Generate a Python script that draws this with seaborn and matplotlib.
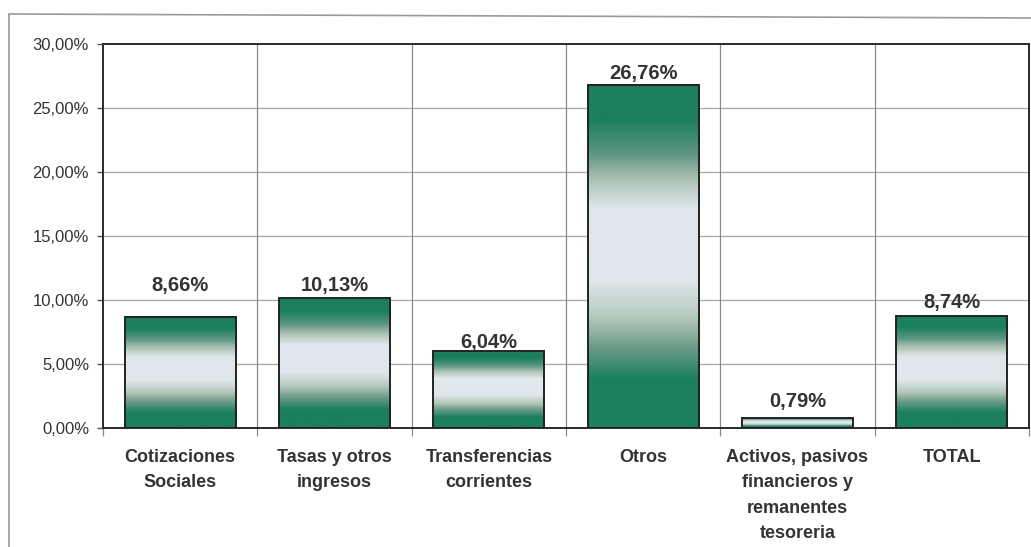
import numpy as np
import matplotlib
matplotlib.use("Agg")
import matplotlib.pyplot as plt
from matplotlib.colors import LinearSegmentedColormap
from matplotlib.lines import Line2D
from matplotlib.ticker import FuncFormatter, MultipleLocator, FixedLocator
import seaborn as sns

# -----------------------
# data
# -----------------------
categories = [
    "Cotizaciones\nSociales",
    "Tasas y otros\ningresos",
    "Transferencias\ncorrientes",
    "Otros",
    "Activos, pasivos\nfinancieros y\nremanentes\ntesoreria",
    "TOTAL",
]
values = [8.66, 10.13, 6.04, 26.76, 0.79, 8.74]
value_labels = ["8,66%", "10,13%", "6,04%", "26,76%", "0,79%", "8,74%"]

# label lift above each bar top (px), as placed in the original
label_lift_px = [32, 13, 8, 12, 16, 14]

DARK = "#1b7f5f"
LIGHT = "#dfe8ec"

sns.set_theme(style="white")
plt.rcParams["font.family"] = ["Liberation Sans", "DejaVu Sans"]

fig = plt.figure(figsize=(10.31, 5.47), dpi=100)
fig.patch.set_facecolor("white")
ax = fig.add_axes([103 / 1031, 1 - 428 / 547, (1029 - 103) / 1031, (428 - 44) / 547])

sns.barplot(x=categories, y=values, ax=ax, color="white", width=0.72,
            edgecolor="#222222", linewidth=1.4, saturation=1)

# gradient fill: dark -> light -> dark, top to bottom of each bar
cmap = LinearSegmentedColormap.from_list(
    "bar_grad",
    [(0.0, DARK), (0.10, DARK), (0.20, "#5f9682"), (0.27, "#a9bfb2"), (0.36, LIGHT),
     (0.57, LIGHT), (0.68, "#b3c8bc"), (0.76, "#6f9d8a"), (0.86, DARK), (1.0, DARK)],
)
grad = np.linspace(0, 1, 256).reshape(-1, 1)
for p in ax.patches:
    x0, y0 = p.get_x(), p.get_y()
    w, h = p.get_width(), p.get_height()
    im = ax.imshow(grad, cmap=cmap, aspect="auto", origin="upper",
                   extent=[x0, x0 + w, y0, y0 + h], zorder=2, interpolation="bilinear")
    im.set_clip_path(p)
    p.set_facecolor("none")
    p.set_zorder(3)

ax.set_xlim(-0.5, len(categories) - 0.5)
ax.set_ylim(0, 30)

# value labels
px_to_pt = 72 / 100
for i, (v, txt) in enumerate(zip(values, value_labels)):
    ax.annotate(txt, (i, v), xytext=(0, label_lift_px[i] * px_to_pt),
                textcoords="offset points", ha="center", va="center",
                fontsize=14.5, fontweight="bold", color="#333333", zorder=4)

# grid
ax.yaxis.set_major_locator(MultipleLocator(5))
ax.yaxis.set_major_formatter(FuncFormatter(lambda y, _: f"{y:.2f}%".replace(".", ",")))
ax.set_xticks(range(len(categories)))
ax.set_xticklabels(categories, fontsize=13, fontweight="bold", color="#333333",
                   linespacing=1.65)
ax.xaxis.set_minor_locator(FixedLocator(np.arange(-0.5, len(categories), 1.0)))
ax.grid(False)
for yv in np.arange(5, 30, 5):
    ax.axhline(yv, color="#a8a8a8", lw=0.9, zorder=1)
for xv in np.arange(0.5, len(categories) - 0.5, 1.0):
    ax.axvline(xv, color="#8a8a8a", lw=0.9, zorder=1)

ax.tick_params(axis="x", which="major", length=0, pad=15)
ax.tick_params(axis="x", which="minor", length=6, width=0.9, color="#8a8a8a",
               direction="out", bottom=True)
ax.tick_params(axis="y", which="major", length=4, width=1, color="#555555",
               direction="out", left=True, pad=6, labelsize=12, labelcolor="#333333")

for s in ax.spines.values():
    s.set_visible(True)
    s.set_color("#2a2a2a")
    s.set_linewidth(1.4)

# outer frame of the scanned chart
fig.add_artist(Line2D([9 / 1031, 9 / 1031], [0, 1 - 14 / 547], color="#9a9a9a", lw=1.2))
fig.add_artist(Line2D([9 / 1031, 1], [1 - 14 / 547, 1 - 18 / 547], color="#9a9a9a", lw=1.2))

fig.savefig("out.png", dpi=100, facecolor="white")
